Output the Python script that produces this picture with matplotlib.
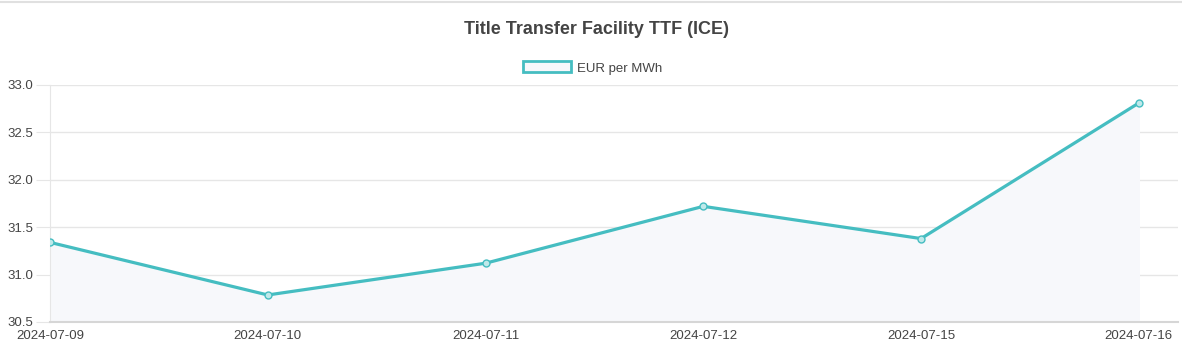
import matplotlib.pyplot as plt
from matplotlib.patches import Patch
from matplotlib.lines import Line2D

plt.rcParams['font.family'] = ['Liberation Sans', 'DejaVu Sans']

# Data
dates = ['2024-07-09', '2024-07-10', '2024-07-11', '2024-07-12', '2024-07-15', '2024-07-16']
prices = [31.34, 30.785, 31.12, 31.72, 31.38, 32.81]
y_ticks = [30.5, 31.0, 31.5, 32.0, 32.5, 33.0]

line_color = '#45bdc1'
fill_color = '#f7f8fb'
grid_color = '#e6e6e6'
text_color = '#444444'

fig = plt.figure(figsize=(11.82, 3.56), dpi=100)
ax = fig.add_axes([50 / 1182, 34 / 356, 1128 / 1182, 237 / 356])

x = list(range(len(dates)))
ax.fill_between(x, prices, y_ticks[0], color=fill_color, zorder=1)
ax.plot(x, prices, color=line_color, linewidth=2.3, zorder=3,
        marker='o', markersize=5, markerfacecolor='#bfe9ea',
        markeredgecolor=line_color, markeredgewidth=1)

ax.set_xlim(0, 5.18)
ax.set_ylim(y_ticks[0], y_ticks[-1])
ax.set_xticks(x)
ax.set_xticklabels(dates)
ax.set_yticks(y_ticks)
ax.set_yticklabels([f'{v:.1f}' for v in y_ticks])
ax.tick_params(axis='x', length=0, pad=6, labelsize=9.5, labelcolor=text_color)
ax.tick_params(axis='y', length=10, color=grid_color, pad=2, labelsize=9.5, labelcolor=text_color)
ax.grid(axis='y', color=grid_color, linewidth=1)
ax.set_axisbelow(True)

for s in ['top', 'right']:
    ax.spines[s].set_visible(False)
ax.spines['left'].set_color(grid_color)
ax.spines['bottom'].set_color('#d6d6d6')
ax.spines['bottom'].set_linewidth(1.5)

fig.text(597 / 1182, 1 - 30 / 356, 'Title Transfer Facility TTF (ICE)',
         ha='center', va='center', fontsize=13, fontweight='bold', color='#444444')

handle = Patch(facecolor=fill_color, edgecolor=line_color, linewidth=2)
fig.legend([handle], ['EUR per MWh'], loc='center', bbox_to_anchor=(593 / 1182, 1 - 68 / 356),
           frameon=False, fontsize=9.5, handlelength=3.6, handleheight=0.9,
           handletextpad=0.5, labelcolor=text_color)

# thin border along the top
fig.add_artist(Line2D([0, 1], [1 - 1.5 / 356, 1 - 1.5 / 356], color='#e0e0e0', linewidth=1.5))

plt.savefig('out.png', dpi=100)
